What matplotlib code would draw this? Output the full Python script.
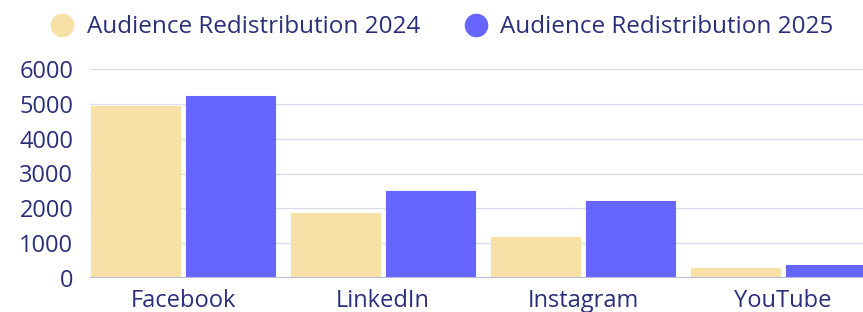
import numpy as np
import matplotlib.pyplot as plt
from matplotlib.lines import Line2D

platforms = ["Facebook", "LinkedIn", "Instagram", "YouTube"]
series_names = ["Audience Redistribution 2024", "Audience Redistribution 2025"]
values_2024 = [4930, 1870, 1180, 280]
values_2025 = [5220, 2510, 2220, 370]
y_ticks = [0, 1000, 2000, 3000, 4000, 5000, 6000]

text_color = "#2A2F7A"
colors = ["#F7E1A6", "#6666FF"]

plt.rcParams["font.family"] = ["Open Sans", "DejaVu Sans"]

fig = plt.figure(figsize=(8.63, 3.12), dpi=100)
ax = fig.add_axes([90 / 863, 1 - 278 / 312, 1 - 90 / 863, (278 - 69) / 312])

x = np.arange(len(platforms))
w = 0.445
off = 0.2375
for i, vals in enumerate([values_2024, values_2025]):
    ax.bar(x + (off if i else -off), vals, width=w, color=colors[i],
           edgecolor=colors[i], linewidth=0.8, joinstyle="round", zorder=3)

ax.set_xlim(-0.465, 3.4)
ax.set_ylim(0, 6000)
ax.set_yticks(y_ticks)
ax.set_xticks(x)
ax.set_xticklabels(platforms)
ax.grid(axis="y", color="#DCDCEE", linewidth=1, zorder=0)
ax.axhline(0, color="#B8BBD6", linewidth=1.5, zorder=4)
for s in ax.spines.values():
    s.set_visible(False)
ax.tick_params(axis="both", length=0, labelsize=17, colors=text_color)
ax.tick_params(axis="y", pad=12)
ax.tick_params(axis="x", pad=8)

handles = [Line2D([], [], marker="o", linestyle="none", markersize=16,
                  markerfacecolor=c, markeredgecolor=c) for c in colors]
leg = fig.legend(handles, series_names, loc="center", bbox_to_anchor=(0.512, 0.913),
                 ncol=2, frameon=False, fontsize=17.5, handlelength=1.0,
                 handletextpad=0.5, columnspacing=1.8)
for t in leg.get_texts():
    t.set_color(text_color)

fig.savefig("out.png", dpi=100)
